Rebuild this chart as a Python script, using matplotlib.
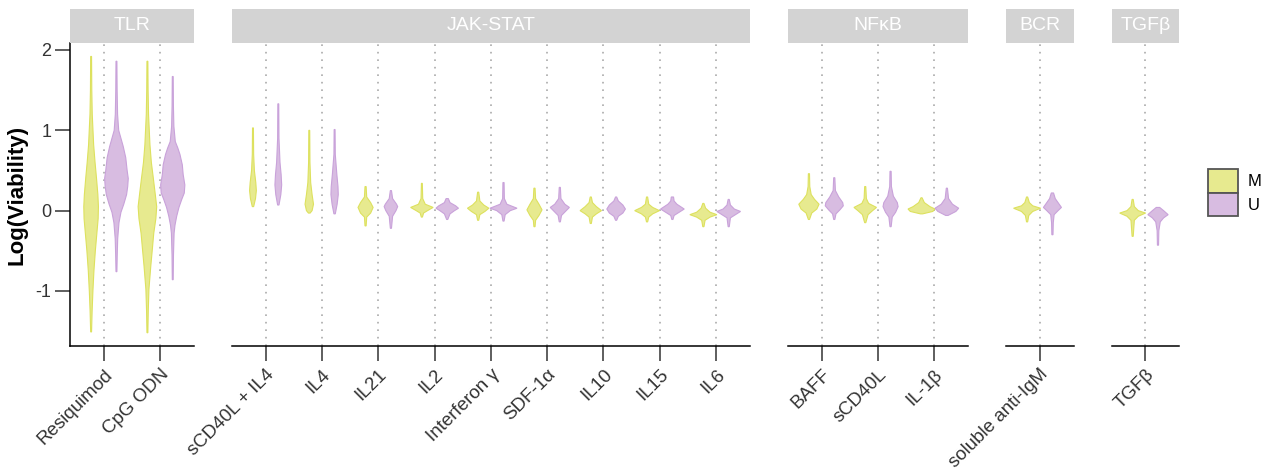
import numpy as np
import matplotlib
matplotlib.use("Agg")
import matplotlib.pyplot as plt
from matplotlib.patches import Patch

plt.rcParams['font.family'] = ['Liberation Sans', 'DejaVu Sans']

# facets and stimuli
groups = ["TLR", "JAK-STAT", "NFκB", "BCR", "TGFβ"]
stimuli = [
    ["Resiquimod", "CpG ODN"],
    ["sCD40L + IL4", "IL4", "IL21", "IL2", "Interferon γ", "SDF-1α", "IL10", "IL15", "IL6"],
    ["BAFF", "sCD40L", "IL-1β"],
    ["soluble anti-IgM"],
    ["TGFβ"],
]
ighv = ["M", "U"]

# violin outlines: (log viability, half width in category units)
violin_M = {
    "Resiquimod": [(1.92, .008), (1.5, .012), (1.2, .02), (0.82, .045), (0.6, .07), (0.41, .095),
                   (0.2, .12), (0.05, .13), (-0.1, .125), (-0.3, .1), (-0.5, .075), (-0.75, .05),
                   (-1.0, .032), (-1.25, .018), (-1.51, .008)],
    "CpG ODN": [(1.86, .008), (1.5, .012), (1.2, .02), (0.82, .045), (0.6, .07), (0.41, .104),
                (0.2, .14), (0.05, .165), (-0.1, .15), (-0.28, .113), (-0.5, .085), (-0.69, .06),
                (-0.98, .027), (-1.25, .015), (-1.52, .008)],
    "sCD40L + IL4": [(1.03, .008), (0.7, .012), (0.5, .025), (0.35, .05), (0.25, .06), (0.15, .045), (0.05, .012)],
    "IL4": [(1.0, .008), (0.6, .012), (0.35, .025), (0.2, .05), (0.08, .075), (0.0, .05), (-0.03, .015)],
    "IL21": [(0.3, .01), (0.17, .02), (0.1, .09), (0.04, .134), (-0.03, .09), (-0.08, .02), (-0.19, .01)],
    "IL2": [(0.34, .008), (0.15, .015), (0.08, .06), (0.04, .2), (0.0, .1), (-0.03, .03), (-0.08, .01)],
    "Interferon γ": [(0.23, .01), (0.12, .03), (0.07, .1), (0.03, .19), (-0.01, .12), (-0.05, .03), (-0.12, .01)],
    "SDF-1α": [(0.28, .01), (0.15, .02), (0.08, .08), (0.01, .134), (-0.06, .08), (-0.12, .02), (-0.2, .01)],
    "IL10": [(0.17, .01), (0.1, .03), (0.05, .1), (0.0, .19), (-0.04, .1), (-0.08, .03), (-0.16, .01)],
    "IL15": [(0.17, .01), (0.08, .03), (0.04, .1), (0.0, .22), (-0.04, .1), (-0.08, .03), (-0.14, .01)],
    "IL6": [(0.09, .01), (0.03, .04), (-0.02, .12), (-0.05, .24), (-0.08, .12), (-0.12, .03), (-0.2, .01)],
    "BAFF": [(0.46, .01), (0.3, .015), (0.2, .04), (0.14, .1), (0.08, .18), (0.02, .14), (-0.03, .05), (-0.11, .01)],
    "sCD40L": [(0.3, .01), (0.15, .02), (0.09, .06), (0.04, .2), (0.0, .13), (-0.05, .05), (-0.15, .01)],
    "IL-1β": [(0.16, .01), (0.1, .05), (0.05, .15), (0.02, .24), (-0.01, .2), (-0.04, .02)],
    "soluble anti-IgM": [(0.17, .01), (0.1, .04), (0.06, .1), (0.03, .24), (-0.01, .1), (-0.06, .03), (-0.14, .01)],
    "TGFβ": [(0.14, .01), (0.05, .03), (0.0, .1), (-0.03, .23), (-0.07, .1), (-0.12, .03), (-0.32, .01)],
}
violin_U = {
    "Resiquimod": [(1.86, .008), (1.5, .012), (1.2, .02), (1.0, .04), (0.9, .08), (0.8, .12), (0.66, .165),
                   (0.5, .19), (0.4, .21), (0.3, .2), (0.2, .18), (0.08, .13), (-0.02, .08), (-0.15, .045),
                   (-0.35, .022), (-0.55, .014), (-0.76, .008)],
    "CpG ODN": [(1.67, .008), (1.3, .012), (1.05, .02), (0.86, .045), (0.78, .09), (0.7, .128), (0.57, .17),
                (0.45, .185), (0.32, .215), (0.22, .205), (0.14, .16), (0.04, .11), (-0.07, .07),
                (-0.18, .04), (-0.28, .024), (-0.55, .013), (-0.86, .008)],
    "sCD40L + IL4": [(1.33, .008), (0.9, .012), (0.6, .03), (0.45, .05), (0.32, .06), (0.2, .045), (0.07, .012)],
    "IL4": [(1.01, .008), (0.7, .012), (0.45, .04), (0.3, .06), (0.2, .065), (0.08, .045), (-0.04, .012)],
    "IL21": [(0.25, .01), (0.15, .03), (0.08, .1), (0.05, .12), (0.0, .09), (-0.07, .03), (-0.22, .01)],
    "IL2": [(0.15, .02), (0.1, .05), (0.06, .15), (0.03, .2), (0.0, .13), (-0.04, .05), (-0.11, .01)],
    "Interferon γ": [(0.35, .01), (0.15, .015), (0.08, .06), (0.03, .24), (0.0, .12), (-0.05, .03), (-0.13, .01)],
    "SDF-1α": [(0.29, .01), (0.15, .02), (0.08, .09), (0.04, .17), (-0.01, .1), (-0.06, .03), (-0.14, .01)],
    "IL10": [(0.17, .01), (0.12, .04), (0.07, .12), (0.02, .165), (-0.03, .12), (-0.07, .04), (-0.12, .01)],
    "IL15": [(0.17, .02), (0.12, .03), (0.08, .08), (0.02, .21), (-0.02, .12), (-0.06, .03), (-0.11, .01)],
    "IL6": [(0.14, .01), (0.07, .03), (0.02, .1), (-0.01, .21), (-0.05, .12), (-0.09, .03), (-0.2, .01)],
    "BAFF": [(0.41, .01), (0.25, .02), (0.17, .08), (0.1, .15), (0.06, .16), (0.01, .1), (-0.04, .03), (-0.11, .01)],
    "sCD40L": [(0.49, .01), (0.3, .015), (0.18, .05), (0.1, .12), (0.05, .134), (-0.02, .09), (-0.08, .03), (-0.2, .01)],
    "IL-1β": [(0.28, .01), (0.15, .03), (0.08, .1), (0.03, .21), (-0.01, .16), (-0.06, .02)],
    "soluble anti-IgM": [(0.22, .02), (0.15, .05), (0.08, .12), (0.04, .16), (0.0, .1), (-0.05, .03),
                         (-0.15, .015), (-0.3, .01)],
    "TGFβ": [(0.04, .03), (0.0, .1), (-0.05, .18), (-0.09, .1), (-0.14, .04), (-0.25, .015), (-0.43, .01)],
}

fill_col = {"M": "#E7EA8F", "U": "#D8BCE1"}
edge_col = {"M": "#DDE15E", "U": "#C9A2DA"}

W, H = 1272, 475
fig = plt.figure(figsize=(W / 100, H / 100), dpi=100)

unit = 56.3      # px per category
gap = 38
left = 70
top, bottom = 43, 346
strip_h = 34
dodge = 0.225


def draw_violin(ax, xc, prof, fc, ec):
    v = np.array([p[0] for p in prof])
    w = np.array([p[1] for p in prof])
    xs = np.concatenate([xc - w, (xc + w)[::-1]])
    ys = np.concatenate([v, v[::-1]])
    ax.fill(xs, ys, facecolor=fc, edgecolor=ec, lw=0.8, zorder=3)


x0 = left
for gi, (g, stims) in enumerate(zip(groups, stimuli)):
    n = len(stims)
    pw = unit * (n - 1 + 1.2)
    ax = fig.add_axes([x0 / W, (H - bottom) / H, pw / W, (bottom - top) / H])
    sax = fig.add_axes([x0 / W, (H - top) / H, pw / W, strip_h / H])
    sax.set_facecolor("#D3D3D3")
    sax.set_xticks([]); sax.set_yticks([])
    for s in sax.spines.values():
        s.set_visible(False)
    sax.text(0.5, 0.5, g, color="white", fontsize=14, ha="center", va="center",
             transform=sax.transAxes)

    for i, st in enumerate(stims):
        ax.axvline(i, color="#AAAAAA", lw=1.2, ls=(0, (1, 3.5)), zorder=1)
        draw_violin(ax, i - dodge, violin_M[st], fill_col["M"], edge_col["M"])
        draw_violin(ax, i + dodge, violin_U[st], fill_col["U"], edge_col["U"])

    ax.set_xlim(-0.6, n - 1 + 0.6)
    ax.set_ylim(-1.685, 2.087)
    ax.set_xticks(range(n))
    ax.set_xticklabels(stims, rotation=45, ha="right", va="top", rotation_mode="anchor",
                       fontsize=13.5, color="#333333")
    ax.tick_params(axis="x", length=10.5, width=1.1, color="#333333", pad=4)
    for s in ["top", "right"]:
        ax.spines[s].set_visible(False)
    ax.spines["bottom"].set_linewidth(1.1)
    ax.spines["bottom"].set_color("black")
    if gi == 0:
        ax.set_yticks([-1, 0, 1, 2])
        ax.set_yticklabels(["-1", "0", "1", "2"], fontsize=13, color="#333333")
        ax.tick_params(axis="y", length=10.5, width=1.1, color="#333333", pad=3)
        ax.spines["left"].set_linewidth(1.1)
        ax.spines["left"].set_color("black")
    else:
        ax.spines["left"].set_visible(False)
        ax.set_yticks([])
    x0 += pw + gap

fig.text(17 / W, 1 - 195 / H, "Log(Viability)", rotation=90, fontsize=16, fontweight="bold",
         ha="center", va="center")

handles = [Patch(facecolor=fill_col[k], edgecolor="#555555", lw=1.3, label=k) for k in ighv]
fig.legend(handles=handles, loc="upper left", bbox_to_anchor=(1208 / W, 1 - 169 / H),
           frameon=False, handlelength=1.8, handleheight=1.8, labelspacing=0,
           handletextpad=0.6, borderpad=0, borderaxespad=0, fontsize=12)

fig.savefig("out.png", dpi=100)
